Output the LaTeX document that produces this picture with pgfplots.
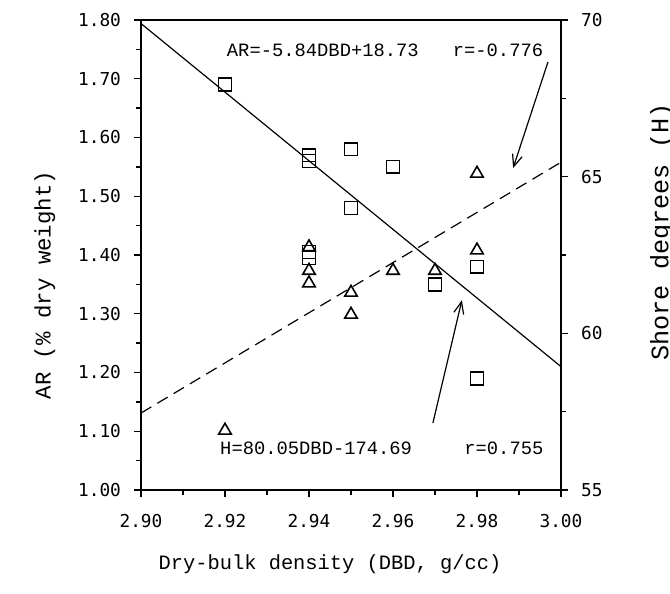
\documentclass[border=0pt]{standalone}
\usepackage{pgfplots}
\pgfplotsset{compat=1.18}
\usepackage{fontspec}
\setmainfont{Liberation Mono}
\newfontfamily\tickfont{DejaVu Sans Mono}
\usetikzlibrary{arrows.meta}

% squares: AR (left axis)
\pgfplotstableread{
x y
2.92 1.69
2.94 1.57
2.94 1.56
2.95 1.58
2.96 1.55
2.95 1.48
2.94 1.405
2.94 1.395
2.97 1.35
2.98 1.38
2.98 1.19
}\ardata

% triangles: H (right axis)
\pgfplotstableread{
x y
2.92 56.9
2.94 62.75
2.94 62.0
2.94 61.6
2.95 61.3
2.95 60.6
2.96 62.0
2.97 62.0
2.98 62.65
2.98 65.1
}\hdata

\begin{document}
\begin{tikzpicture}
\path[use as bounding box] (-70.5bp,-52bp) rectangle (264.5bp,245bp);
\pgfplotsset{
  common/.style={
    width=210bp, height=235bp, scale only axis,
    xmin=2.90, xmax=3.00,
    axis line style={line width=0.8pt},
    tick style={line width=0.7pt, black},
    tick align=outside,
    major tick length=3.5bp, minor tick length=2.5bp,
    tick label style={font=\tickfont\fontsize{8.9bp}{10bp}\selectfont},
    label style={font=\fontsize{10.2bp}{12bp}\selectfont},
    /pgf/number format/assume math mode=true,
    clip=false,
  },
}
\begin{axis}[
  common,
  ymin=1.00, ymax=1.80,
  xtick={2.90,2.92,...,3.00},
  minor xtick={2.91,2.93,...,2.99},
  ytick={1.00,1.10,...,1.80},
  minor ytick={1.05,1.15,...,1.75},
  xtick pos=bottom, ytick pos=left,
  axis y line*=left,
  axis x line*=bottom,
  /pgf/number format/fixed,
  /pgf/number format/fixed zerofill,
  /pgf/number format/precision=2,
  xticklabel style={yshift=-5bp},
  yticklabel style={xshift=-3bp},
  xlabel={Dry-bulk density (DBD, g/cc)},
  xlabel style={at={(axis description cs:0.45,-0.157)}, anchor=center},
  ylabel={AR (\% dry weight)},
  ylabel style={at={(axis description cs:-0.229,0.436)}, anchor=center, rotate=0,
    font=\fontsize{11.2bp}{13bp}\selectfont},
]
\addplot[only marks, mark=square, mark size=3.2bp, mark options={line width=0.8pt}] table {\ardata};
\addplot[line width=0.6pt] coordinates {(2.90,1.794) (3.00,1.21)};
\node[font=\fontsize{9.4bp}{11bp}\selectfont] at (axis cs:2.9433,1.749) {AR=-5.84DBD+18.73};
\node[font=\fontsize{9.4bp}{11bp}\selectfont] at (axis cs:2.985,1.749) {r=-0.776};
\node[font=\fontsize{9.4bp}{11bp}\selectfont] at (axis cs:2.9417,1.0715) {H=80.05DBD-174.69};
\node[font=\fontsize{9.4bp}{11bp}\selectfont] at (axis cs:2.9864,1.0715) {r=0.755};
\draw[line width=0.6pt, -{Straight Barb[length=6bp,width=5bp]}] (axis cs:2.9969,1.7285) -- (axis cs:2.9886,1.548);
\draw[line width=0.6pt, -{Straight Barb[length=6bp,width=5bp]}] (axis cs:2.9695,1.114) -- (axis cs:2.9764,1.323);
\draw[line width=0.8pt] (axis cs:2.90,1.80) -- (axis cs:3.00,1.80);
\end{axis}
\begin{axis}[
  common,
  ymin=55, ymax=70,
  ytick={55,60,65,70},
  minor ytick={57.5,62.5,67.5},
  axis y line*=right,
  axis x line=none,
  yticklabel style={xshift=3bp},
  ylabel={Shore degrees (H)},
  ylabel style={at={(axis description cs:1.24,0.549)}, anchor=center, rotate=0,
    font=\fontsize{12.6bp}{14bp}\selectfont},
]
\addplot[only marks, mark=triangle, mark size=3.6bp, mark options={line width=0.8pt}] table {\hdata};
\addplot[line width=0.6pt, dash pattern=on 6bp off 3.5bp] coordinates {(2.90,57.455) (3.00,65.46)};
\end{axis}
\end{tikzpicture}
\end{document}
